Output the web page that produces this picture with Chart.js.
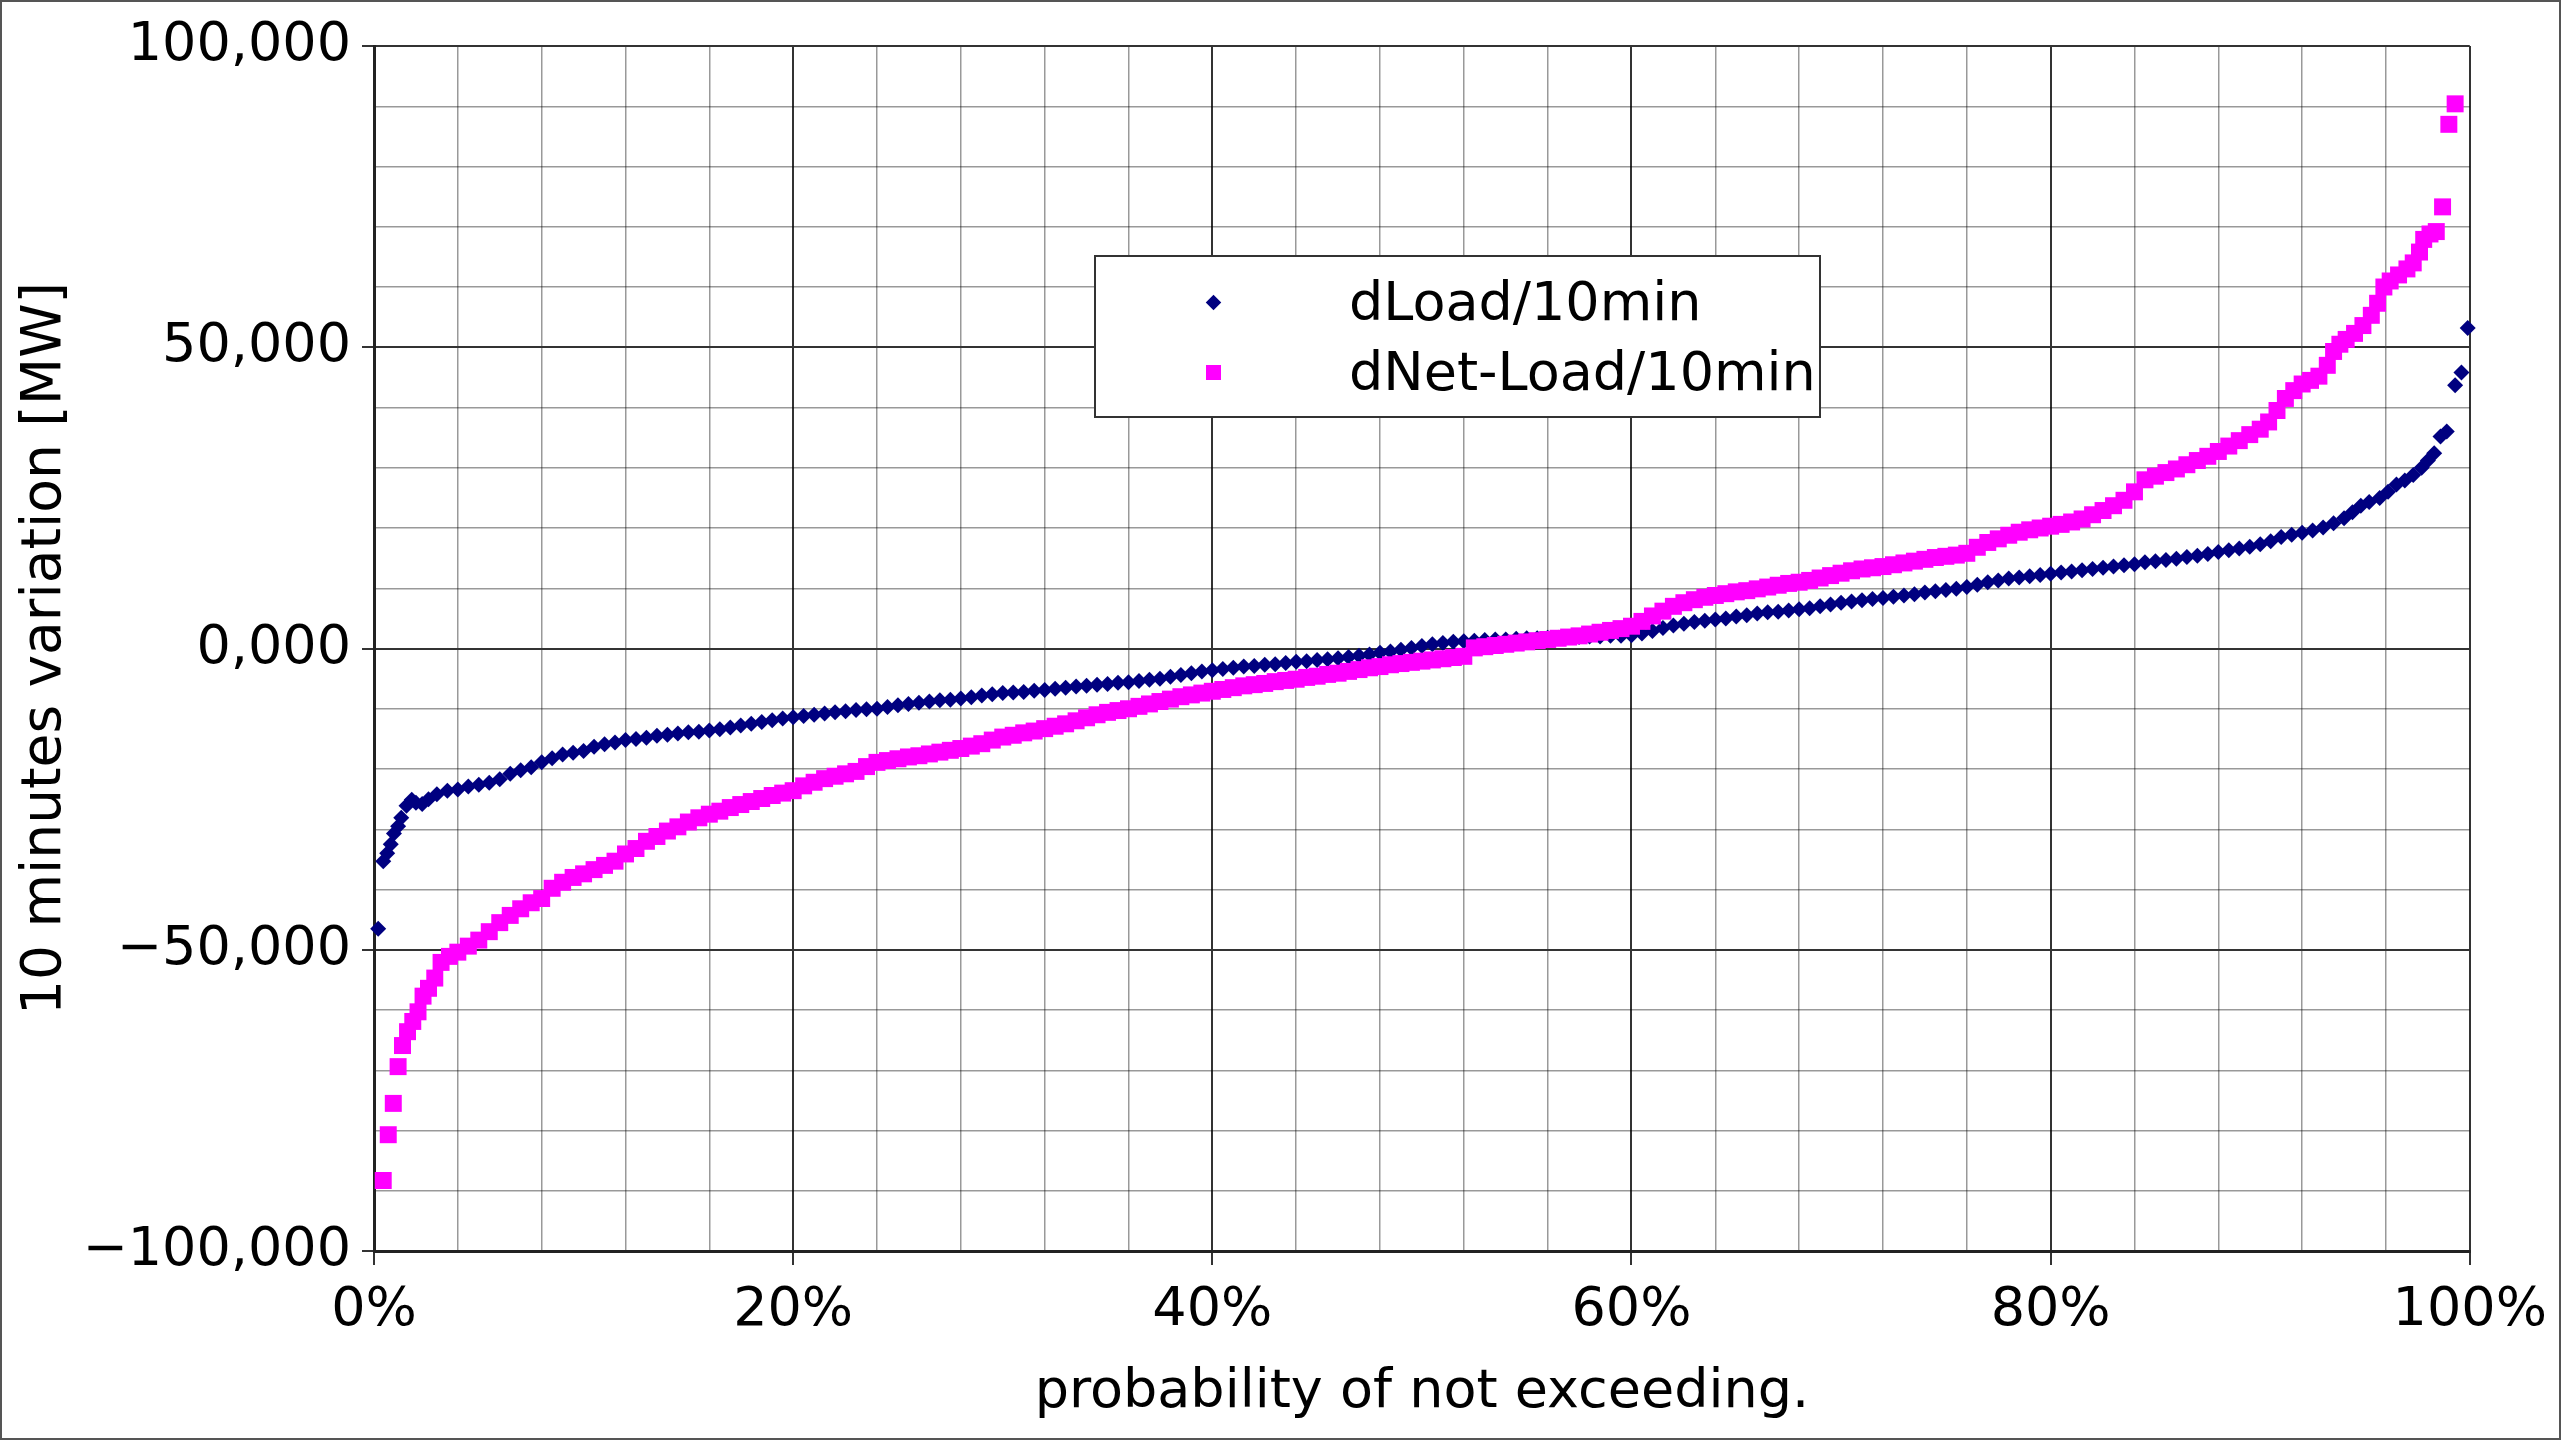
<!DOCTYPE html>
<html>
<head>
<meta charset="utf-8">
<script src="https://cdn.jsdelivr.net/npm/chart.js@4.4.1/dist/chart.umd.min.js"></script>
<style>
  html, body { margin: 0; padding: 0; background: #fff; }
  #wrap { position: relative; width: 2561px; height: 1440px; }
  #legend {
    position: absolute; left: 1094px; top: 255px; width: 727px; height: 163px;
    box-sizing: border-box; border: 2px solid #333; background: #fff;
    font-family: "DejaVu Sans"; font-size: 54px; color: #000;
  }
  .item { position: absolute; left: 0; right: 0; height: 70px; }
  .mark { position: absolute; }
  .text { position: absolute; left: 253px; top: 0; height: 70px; line-height: 70px; white-space: nowrap; }
</style>
</head>
<body>
<div id="wrap">
  <canvas id="chart" width="2561" height="1440"></canvas>
  <div id="legend"></div>
</div>
<script>
// series names and axis texts
const seriesNames = ["dLoad/10min", "dNet-Load/10min"];
const xTitle = "probability of not exceeding.";
const yTitle = "10 minutes variation [MW]";

// dLoad/10min: probability (%) and variation
const loadProb = [
  0.2, 0.44, 0.63, 0.8, 0.95, 1.15, 1.3, 1.55, 1.8, 2.0, 2.3, 2.6,
  3.0, 3.5, 4.0, 4.5, 5.0, 5.5, 6.0, 6.5, 7.0, 7.5,
  8.0, 8.5, 9.0, 9.5, 10.0, 10.5, 11.0, 11.5, 12.0, 12.5,
  13.0, 13.5, 14.0, 14.5, 15.0, 15.5, 16.0, 16.5, 17.0, 17.5,
  18.0, 18.5, 19.0, 19.5, 20.0, 20.5, 21.0, 21.5, 22.0, 22.5,
  23.0, 23.5, 24.0, 24.5, 25.0, 25.5, 26.0, 26.5, 27.0, 27.5,
  28.0, 28.5, 29.0, 29.5, 30.0, 30.5, 31.0, 31.5, 32.0, 32.5,
  33.0, 33.5, 34.0, 34.5, 35.0, 35.5, 36.0, 36.5, 37.0, 37.5,
  38.0, 38.5, 39.0, 39.5, 40.0, 40.5, 41.0, 41.5, 42.0, 42.5,
  43.0, 43.5, 44.0, 44.5, 45.0, 45.5, 46.0, 46.5, 47.0, 47.5,
  48.0, 48.5, 49.0, 49.5, 50.0, 50.5, 51.0, 51.5, 52.0, 52.5,
  53.0, 53.5, 54.0, 54.5, 55.0, 55.5, 56.0, 56.5, 57.0, 57.5,
  58.0, 58.5, 59.0, 59.5, 60.0, 60.5, 61.0, 61.5, 62.0, 62.5,
  63.0, 63.5, 64.0, 64.5, 65.0, 65.5, 66.0, 66.5, 67.0, 67.5,
  68.0, 68.5, 69.0, 69.5, 70.0, 70.5, 71.0, 71.5, 72.0, 72.5,
  73.0, 73.5, 74.0, 74.5, 75.0, 75.5, 76.0, 76.5, 77.0, 77.5,
  78.0, 78.5, 79.0, 79.5, 80.0, 80.5, 81.0, 81.5, 82.0, 82.5,
  83.0, 83.5, 84.0, 84.5, 85.0, 85.5, 86.0, 86.5, 87.0, 87.5,
  88.0, 88.5, 89.0, 89.5, 90.0, 90.5, 91.0, 91.5, 92.0, 92.5,
  93.0, 93.5, 94.0,
  94.4, 94.8, 95.2, 95.7, 96.1, 96.5, 96.9, 97.3, 97.7, 98.0, 98.3, 98.6, 98.9, 99.3, 99.6, 99.9
];
const loadMW = [
  -46.5, -35.3, -34.0, -32.5, -30.7, -29.5, -28.1, -26.1, -25.1, -25.6, -25.8, -25.0,
  -24.2, -23.6, -23.4, -22.9, -22.6, -22.3, -21.7, -20.8, -20.2, -19.7,
  -18.9, -18.2, -17.6, -17.3, -17.0, -16.3, -15.9, -15.6, -15.2, -15.0,
  -14.8, -14.5, -14.3, -14.1, -13.9, -13.8, -13.6, -13.4, -13.1, -12.8,
  -12.5, -12.2, -11.9, -11.6, -11.4, -11.2, -11.0, -10.8, -10.6, -10.4,
  -10.2, -10.1, -10.0, -9.7, -9.4, -9.2, -9.0, -8.8, -8.6, -8.5,
  -8.3, -8.1, -7.8, -7.6, -7.4, -7.3, -7.2, -7.0, -6.9, -6.7,
  -6.5, -6.3, -6.2, -6.0, -5.9, -5.7, -5.6, -5.4, -5.2, -5.0,
  -4.7, -4.4, -4.1, -3.8, -3.6, -3.4, -3.2, -3.0, -2.9, -2.7,
  -2.6, -2.4, -2.2, -2.1, -1.9, -1.8, -1.6, -1.4, -1.2, -1.0,
  -0.7, -0.5, -0.2, 0.1, 0.4, 0.7, 0.9, 1.1, 1.2, 1.3,
  1.4, 1.5, 1.5, 1.6, 1.7, 1.7, 1.8, 1.8, 1.9, 1.9,
  2.0, 2.0, 2.1, 2.1, 2.2, 2.5, 2.9, 3.4, 3.8, 4.1,
  4.4, 4.6, 4.8, 5.0, 5.3, 5.5, 5.8, 6.0, 6.1, 6.3,
  6.5, 6.7, 7.0, 7.3, 7.6, 7.8, 8.0, 8.2, 8.4, 8.6,
  8.8, 9.0, 9.3, 9.5, 9.7, 9.9, 10.2, 10.6, 11.0, 11.3,
  11.6, 11.8, 12.0, 12.2, 12.4, 12.6, 12.8, 13.0, 13.2, 13.4,
  13.6, 13.8, 14.0, 14.3, 14.5, 14.7, 14.9, 15.2, 15.4, 15.7,
  16.0, 16.3, 16.6, 16.9, 17.3, 17.8, 18.5, 18.9, 19.2, 19.6,
  20.1, 20.8, 21.6,
  22.6, 23.7, 24.3, 25.0, 26.0, 27.2, 27.9, 28.8, 30.0, 31.2, 32.4, 35.2, 36.0, 43.7, 45.8, 53.2
];

// dNet-Load/10min: probability (%) and variation
const netProb = [
  0.44, 0.68, 0.92, 1.15, 1.36, 1.6, 1.85, 2.1, 2.34, 2.6, 2.9, 3.2, 3.6,
  4.0, 4.5, 5.0, 5.5, 6.0, 6.5, 7.0, 7.5, 8.0, 8.5,
  9.0, 9.5, 10.0, 10.5, 11.0, 11.5, 12.0, 12.5, 13.0, 13.5,
  14.0, 14.5, 15.0, 15.5, 16.0, 16.5, 17.0, 17.5, 18.0, 18.5,
  19.0, 19.5, 20.0, 20.5, 21.0, 21.5, 22.0, 22.5, 23.0, 23.5,
  24.0, 24.5, 25.0, 25.5, 26.0, 26.5, 27.0, 27.5, 28.0, 28.5,
  29.0, 29.5, 30.0, 30.5, 31.0, 31.5, 32.0, 32.5, 33.0, 33.5,
  34.0, 34.5, 35.0, 35.5, 36.0, 36.5, 37.0, 37.5, 38.0, 38.5,
  39.0, 39.5, 40.0, 40.5, 41.0, 41.5, 42.0, 42.5, 43.0, 43.5,
  44.0, 44.5, 45.0, 45.5, 46.0, 46.5, 47.0, 47.5, 48.0, 48.5,
  49.0, 49.5, 50.0, 50.5, 51.0, 51.5, 52.0, 52.5, 53.0, 53.5,
  54.0, 54.5, 55.0, 55.5, 56.0, 56.5, 57.0, 57.5, 58.0, 58.5,
  59.0, 59.5, 60.0, 60.5, 61.0, 61.5, 62.0, 62.5, 63.0, 63.5,
  64.0, 64.5, 65.0, 65.5, 66.0, 66.5, 67.0, 67.5, 68.0, 68.5,
  69.0, 69.5, 70.0, 70.5, 71.0, 71.5, 72.0, 72.5, 73.0, 73.5,
  74.0, 74.5, 75.0, 75.5, 76.0, 76.5, 77.0, 77.5, 78.0, 78.5,
  79.0, 79.5, 80.0, 80.5, 81.0, 81.5, 82.0, 82.5, 83.0, 83.5,
  84.0, 84.5, 85.0, 85.5, 86.0, 86.5, 87.0, 87.5, 88.0, 88.5,
  89.0, 89.5, 90.0,
  90.4, 90.8, 91.2, 91.6, 92.0, 92.4, 92.8, 93.2, 93.5, 93.8, 94.1, 94.5, 94.9, 95.3,
  95.6, 95.9, 96.2, 96.6, 97.0, 97.3, 97.6, 97.8, 98.1, 98.4, 98.7, 99.0, 99.3
];
const netMW = [
  -88.3, -80.7, -75.5, -69.4, -65.9, -63.6, -61.9, -60.3, -57.7, -56.4, -54.7, -52.1, -51.1,
  -50.4, -49.4, -48.4, -47.0, -45.5, -44.3, -43.2, -42.2, -41.5, -39.8,
  -38.8, -38.0, -37.4, -36.7, -36.0, -35.3, -34.1, -33.2, -32.0, -31.2,
  -30.3, -29.6, -28.8, -28.1, -27.5, -27.0, -26.4, -25.9, -25.4, -24.9,
  -24.4, -24.0, -23.6, -22.8, -22.2, -21.6, -21.2, -20.8, -20.4, -19.6,
  -18.9, -18.6, -18.3, -18.0, -17.8, -17.5, -17.2, -16.9, -16.6, -16.2,
  -15.8, -15.2, -14.7, -14.4, -14.0, -13.7, -13.3, -12.9, -12.5, -12.0,
  -11.5, -11.0, -10.6, -10.3, -10.0, -9.6, -9.2, -8.8, -8.4, -8.0,
  -7.7, -7.4, -7.1, -6.8, -6.5, -6.2, -6.0, -5.8, -5.5, -5.3,
  -5.1, -4.8, -4.6, -4.3, -4.1, -3.8, -3.5, -3.2, -3.0, -2.7,
  -2.5, -2.3, -2.1, -1.9, -1.7, -1.5, -1.3, 0.1, 0.3, 0.5,
  0.7, 0.9, 1.1, 1.3, 1.5, 1.7, 1.9, 2.1, 2.4, 2.7,
  3.0, 3.3, 3.7, 4.5, 5.4, 6.2, 7.0, 7.6, 8.1, 8.5,
  8.8, 9.1, 9.4, 9.6, 9.9, 10.2, 10.5, 10.8, 11.0, 11.3,
  11.7, 12.1, 12.5, 12.9, 13.2, 13.4, 13.6, 13.9, 14.2, 14.5,
  14.8, 15.1, 15.3, 15.5, 15.8, 16.8, 17.6, 18.2, 18.8, 19.3,
  19.7, 20.0, 20.3, 20.6, 21.0, 21.5, 22.2, 22.9, 23.7, 24.6,
  26.0, 28.0, 28.6, 29.2, 29.8, 30.5, 31.2, 31.9, 32.7, 33.6,
  34.5, 35.5, 36.4,
  37.6, 39.5, 41.5, 42.8, 43.9, 44.5, 45.2, 47.0, 49.3, 50.5, 51.3, 52.3, 53.6, 55.3,
  57.3, 60.0, 61.0, 62.0, 63.0, 64.0, 65.8, 67.9, 68.8, 69.2, 73.3, 87.0, 90.4
];

const seriesColors = ["#000080", "#ff00ff"];

const toPoints = (xs, ys) => xs.map((x, i) => ({ x: x, y: ys[i] }));

Chart.defaults.font.family = "DejaVu Sans";
Chart.defaults.color = "#000";

const isMajorX = v => Math.round(v) % 20 === 0;
const isMajorY = v => Math.round(v) % 50 === 0;
const fmtY = v => v.toFixed(3).replace(".", ",").replace("-", "\u2212");

// thin frame round the whole picture
const frame = {
  id: "frame",
  afterDraw(chart) {
    const c = chart.ctx;
    c.save();
    c.strokeStyle = "#555";
    c.lineWidth = 2;
    c.strokeRect(1, 1, chart.width - 2, chart.height - 2);
    c.restore();
  }
};

const chart = new Chart(document.getElementById("chart"), {
  type: "scatter",
  data: {
    datasets: [
      {
        label: seriesNames[0],
        data: toPoints(loadProb, loadMW),
        pointStyle: "rectRot",
        pointRadius: 8,
        pointHoverRadius: 8,
        backgroundColor: seriesColors[0],
        borderWidth: 0,
        order: 1,
        clip: false
      },
      {
        label: seriesNames[1],
        data: toPoints(netProb, netMW),
        pointStyle: "rect",
        pointRadius: 12,
        pointHoverRadius: 12,
        backgroundColor: seriesColors[1],
        borderWidth: 0,
        order: 0,
        clip: false
      }
    ]
  },
  options: {
    responsive: false,
    animation: false,
    layout: { padding: { left: 0, right: 87, top: 46, bottom: 0 } },
    plugins: { legend: { display: false }, tooltip: { enabled: false } },
    scales: {
      x: {
        type: "linear",
        min: 0,
        max: 100,
        afterFit: s => { s.height = 189; },
        ticks: {
          stepSize: 4,
          maxTicksLimit: 100,
          autoSkip: false,
          maxRotation: 0,
          minRotation: 0,
          padding: 14,
          font: { size: 54 },
          color: "#000",
          callback: v => isMajorX(v) ? Math.round(v) + "%" : ""
        },
        grid: {
          color: c => isMajorX(c.tick.value) ? "#333" : "rgba(0,0,0,0.4)",
          lineWidth: c => isMajorX(c.tick.value) ? 2 : 1.5,
          tickLength: 14,
          tickWidth: 2,
          tickColor: c => isMajorX(c.tick.value) ? "#333" : "rgba(0,0,0,0)"
        },
        border: { color: "#222", width: 3 },
        title: {
          display: true,
          text: xTitle,
          font: { size: 54 },
          color: "#000",
          padding: { top: 0, bottom: 15 }
        }
      },
      y: {
        type: "linear",
        min: -100,
        max: 100,
        afterFit: s => { s.width = 374; },
        ticks: {
          stepSize: 10,
          maxTicksLimit: 100,
          autoSkip: false,
          padding: 11,
          font: { size: 54 },
          color: "#000",
          callback: v => isMajorY(v) ? fmtY(v) : ""
        },
        grid: {
          color: c => isMajorY(c.tick.value) ? "#333" : "rgba(0,0,0,0.4)",
          lineWidth: c => isMajorY(c.tick.value) ? 2 : 1.5,
          tickLength: 12,
          tickWidth: 2,
          tickColor: c => isMajorY(c.tick.value) ? "#333" : "rgba(0,0,0,0)"
        },
        border: { color: "#222", width: 3 },
        title: {
          display: true,
          text: yTitle,
          font: { size: 55 },
          color: "#000",
          padding: { top: 13, bottom: 0 }
        }
      }
    }
  },
  plugins: [frame]
});

// legend box inside the plot, built from the datasets
const legend = document.getElementById("legend");
const rowCenters = [45, 115];
chart.data.datasets.forEach((ds, i) => {
  const item = document.createElement("div");
  item.className = "item";
  item.style.top = (rowCenters[i] - 35) + "px";
  const mark = document.createElement("div");
  mark.className = "mark";
  if (ds.pointStyle === "rectRot") {
    mark.style.width = "11px";
    mark.style.height = "11px";
    mark.style.left = (117 - 5.5) + "px";
    mark.style.top = (35 - 5.5) + "px";
    mark.style.transform = "rotate(45deg)";
  } else {
    mark.style.width = "15px";
    mark.style.height = "15px";
    mark.style.left = (117 - 7.5) + "px";
    mark.style.top = (35 - 7.5) + "px";
  }
  mark.style.background = ds.backgroundColor;
  const text = document.createElement("div");
  text.className = "text";
  text.textContent = ds.label;
  item.appendChild(mark);
  item.appendChild(text);
  legend.appendChild(item);
});
</script>
</body>
</html>
